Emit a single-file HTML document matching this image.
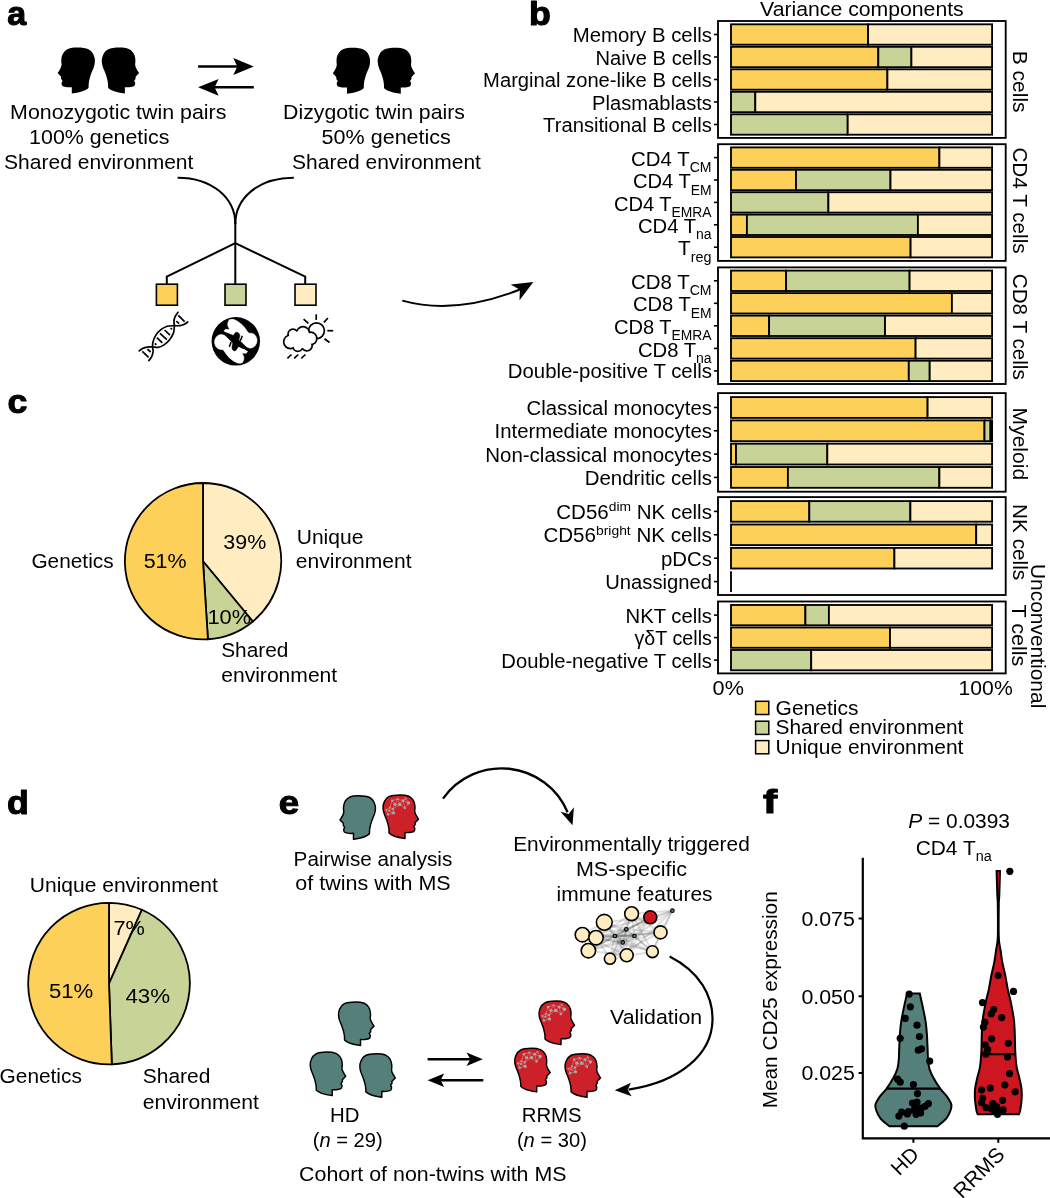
<!DOCTYPE html>
<html lang="en">
<head>
<meta charset="utf-8">
<title>Figure</title>
<style>
html,body{margin:0;padding:0;background:#fff;}
body{width:1050px;height:1198px;overflow:hidden;}
svg{display:block;font-family:"Liberation Sans",sans-serif;fill:#000;}
.lab{font-weight:bold;stroke:#000;stroke-width:1.1px;stroke-linejoin:round;}
.ln{fill:none;stroke:#000;stroke-width:2;}
</style>
</head>
<body>
<svg width="1050" height="1198" viewBox="0 0 1050 1198">
<rect x="0" y="0" width="1050" height="1198" fill="#fff"/>
<defs>
<path id="head" d="M19.7,0 C24,0 28.5,0.5 31.2,1.9 C33.5,3.2 35,5 35.9,7.1 C36.9,9.3 37.4,11.5 37.3,13.4 C37.3,15.3 37,17 36.5,18.6 C36,20.5 35.2,22 34.4,23.9 C33.6,26 32.8,28 32.3,30.2 C31.8,32 31.4,33.5 31.2,35.4 C31,37 31,38.5 31,40.1 C29,42.5 24,44.5 14.2,45.9 L14.2,39.6 C12,39.8 10,39.8 8.2,39.4 C6.5,39.2 5,38.8 4.5,38 C4,37 3.8,36 4,34.9 L5,33.3 L3.5,31.2 L3.5,29.1 L0,25.5 C1,24 2.2,22.3 2.9,20.7 C3.6,19.3 4,18 4,16.6 C3.6,15 3.6,13 3.8,11.3 C4,9 4.6,7.2 5.6,5.6 C6.8,3.8 8.3,2.4 10.3,1.4 C13,0.3 16,0 19.7,0Z"/>
<g id="net" stroke="#C9B4B4" stroke-width="0.5" fill="#A3A8A8"><line x1="9.5" y1="6.2" x2="12.4" y2="10.0"/><line x1="9.5" y1="6.2" x2="15.2" y2="4.3"/><line x1="12.4" y1="10.0" x2="15.2" y2="4.3"/><line x1="12.4" y1="10.0" x2="17.6" y2="10.0"/><line x1="15.2" y1="4.3" x2="17.6" y2="10.0"/><line x1="15.2" y1="4.3" x2="21.0" y2="6.2"/><line x1="17.6" y1="10.0" x2="21.0" y2="6.2"/><line x1="17.6" y1="10.0" x2="22.9" y2="13.8"/><line x1="21.0" y1="6.2" x2="22.9" y2="13.8"/><line x1="21.0" y1="6.2" x2="23.8" y2="3.8"/><line x1="21.0" y1="6.2" x2="26.7" y2="8.6"/><line x1="22.9" y1="13.8" x2="26.7" y2="8.6"/><line x1="23.8" y1="3.8" x2="26.7" y2="8.6"/><line x1="12.4" y1="10.0" x2="10.5" y2="14.8"/><line x1="9.5" y1="6.2" x2="7.1" y2="13.3"/><line x1="10.5" y1="14.8" x2="7.1" y2="13.3"/><line x1="7.1" y1="13.3" x2="3.3" y2="15.7"/><line x1="3.3" y1="15.7" x2="5.2" y2="20.5"/><line x1="5.2" y1="20.5" x2="11.0" y2="19.0"/><line x1="10.5" y1="14.8" x2="11.0" y2="19.0"/><line x1="7.1" y1="13.3" x2="6.2" y2="16.7"/><line x1="6.2" y1="16.7" x2="11.0" y2="19.0"/><line x1="3.3" y1="15.7" x2="6.2" y2="16.7"/><line x1="10.5" y1="14.8" x2="6.2" y2="16.7"/><line x1="17.6" y1="10.0" x2="10.5" y2="14.8"/><circle cx="9.5" cy="6.2" r="1.3" stroke="none"/><circle cx="12.4" cy="10.0" r="1.7" stroke="none"/><circle cx="15.2" cy="4.3" r="1.0" stroke="none"/><circle cx="17.6" cy="10.0" r="1.9" stroke="none"/><circle cx="21.0" cy="6.2" r="1.5" stroke="none"/><circle cx="22.9" cy="13.8" r="1.3" stroke="none"/><circle cx="23.8" cy="3.8" r="1.0" stroke="none"/><circle cx="26.7" cy="8.6" r="1.8" stroke="none"/><circle cx="10.5" cy="14.8" r="1.2" stroke="none"/><circle cx="7.1" cy="13.3" r="1.0" stroke="none"/><circle cx="3.3" cy="15.7" r="1.0" stroke="none"/><circle cx="5.2" cy="20.5" r="1.3" stroke="none"/><circle cx="11.0" cy="19.0" r="1.7" stroke="none"/><circle cx="6.2" cy="16.7" r="0.9" stroke="none"/></g>
</defs>
<g id="panel-a">
<text class="lab" transform="translate(7.2,25.2) scale(1.0,1)" font-size="34">a</text>
<g transform="translate(57.6,47.6) scale(1.0)"><use href="#head" fill="#000"/></g>
<g transform="translate(139.1,47.6) scale(-1.0,1.0)"><use href="#head" fill="#000"/></g>
<g transform="translate(332.8,47.8) scale(1.0)"><use href="#head" fill="#000"/></g>
<g transform="translate(415.0,47.8) scale(-1.0,1.0)"><use href="#head" fill="#000"/></g>
<line class="ln" style="stroke-width:2.4" x1="198.1" y1="66.5" x2="238" y2="66.5"/>
<polygon points="253.8,66.5 233.3,58.1 237.3,66.5 233.3,74.9" fill="#000"/>
<line class="ln" style="stroke-width:2.4" x1="253.8" y1="87.3" x2="214" y2="87.3"/>
<polygon points="198.1,87.3 218.6,95.7 214.6,87.3 218.6,78.9" fill="#000"/>
<text x="10.1" y="118.5" font-size="20.5" textLength="216.3" lengthAdjust="spacingAndGlyphs">Monozygotic twin pairs</text>
<text x="29.1" y="144.0" font-size="20.5" textLength="140.3" lengthAdjust="spacingAndGlyphs">100% genetics</text>
<text x="4.1" y="169.0" font-size="20.5" textLength="189.3" lengthAdjust="spacingAndGlyphs">Shared environment</text>
<text x="283.1" y="118.5" font-size="20.5" textLength="181.8" lengthAdjust="spacingAndGlyphs">Dizygotic twin pairs</text>
<text x="321.6" y="144.0" font-size="20.5" textLength="129.3" lengthAdjust="spacingAndGlyphs">50% genetics</text>
<text x="292.1" y="169.0" font-size="20.5" textLength="188.8" lengthAdjust="spacingAndGlyphs">Shared environment</text>
<path class="ln" d="M177.6,177.7 C212,177.7 235.3,198 235.3,224"/>
<path class="ln" d="M293.8,177.7 C258.6,177.7 235.3,198 235.3,224"/>
<path class="ln" d="M235.3,223 V284"/>
<path class="ln" stroke-linejoin="miter" d="M166.8,284 V276.6 L235.3,243.2 L305.2,276.6 V284"/>
<rect x="156.4" y="284.2" width="21" height="21" fill="#FDD05A" stroke="#000" stroke-width="1.6"/>
<rect x="225.0" y="284.2" width="21" height="21" fill="#C8D398" stroke="#000" stroke-width="1.6"/>
<rect x="295.0" y="284.2" width="21" height="21" fill="#FFECC1" stroke="#000" stroke-width="1.6"/>
<g fill="none" stroke="#000" stroke-width="1.7" stroke-linecap="round">
<path d="M139.1,350.9 C139.7,350.5 141.3,349.2 142.6,348.6 C143.9,348.0 145.5,347.4 147.1,347.1 C148.7,346.8 150.5,346.8 152.3,346.9 C154.1,346.9 156.1,347.7 158.0,347.4 C159.9,347.1 161.8,346.3 163.7,345.1 C165.6,343.9 167.8,342.0 169.4,340.0 C171.0,338.0 172.6,335.3 173.4,333.1 C174.2,330.9 174.2,328.9 174.3,326.9 C174.4,324.9 173.9,322.8 174.0,321.1 C174.1,319.4 174.4,318.1 175.1,316.6 C175.8,315.1 177.5,313.0 178.0,312.3"/>
<path d="M148.9,360.6 C149.4,359.9 151.0,358.1 151.7,356.6 C152.4,355.1 152.9,353.0 153.1,351.4 C153.2,349.8 152.6,348.6 152.6,347.1 C152.6,345.6 152.4,344.2 152.9,342.3 C153.4,340.4 154.4,337.5 155.7,335.4 C157.0,333.3 159.0,331.2 160.9,329.7 C162.8,328.2 164.9,327.0 167.1,326.3 C169.3,325.6 171.9,325.8 174.0,325.7 C176.1,325.6 178.0,325.9 179.7,325.7 C181.4,325.5 183.0,324.9 184.3,324.3 C185.6,323.7 187.1,322.4 187.7,322.0"/>
<line x1="154.9" y1="343.4" x2="156.3" y2="344.9" stroke-width="1.7" stroke-linecap="butt"/>
<line x1="156.9" y1="337.7" x2="162.3" y2="342.9" stroke-width="1.7" stroke-linecap="butt"/>
<line x1="160.0" y1="333.4" x2="166.9" y2="339.7" stroke-width="1.7" stroke-linecap="butt"/>
<line x1="164.6" y1="330.0" x2="170.0" y2="335.1" stroke-width="1.7" stroke-linecap="butt"/>
<line x1="170.6" y1="328.0" x2="172.0" y2="329.4" stroke-width="1.7" stroke-linecap="butt"/>
<line x1="142.3" y1="351.4" x2="148.6" y2="357.4" stroke-width="1.7" stroke-linecap="butt"/>
<line x1="147.4" y1="349.1" x2="150.6" y2="352.0" stroke-width="1.7" stroke-linecap="butt"/>
<line x1="178.3" y1="315.4" x2="184.6" y2="321.7" stroke-width="1.7" stroke-linecap="butt"/>
<line x1="176.3" y1="321.1" x2="179.1" y2="323.7" stroke-width="1.7" stroke-linecap="butt"/>
</g>
<g transform="translate(235.8,341.3)">
<circle r="24.2" fill="#000"/>
<polygon transform="scale(1)" points="-6.51,-21.44 -4.37,-21.97 -1.71,-21.71 2.03,-19.84 6.29,-16.64 9.49,-12.91 11.63,-9.71 13.23,-8.11 15.36,-8.11 18.03,-7.31 20.16,-4.91 21.23,-1.71 20.96,1.49 19.36,4.43 16.96,6.29 14.29,6.83 11.63,6.03 9.49,4.43 6.29,1.49 2.03,-2.24 -2.24,-5.44 -6.51,-7.31 -10.24,-8.64 -11.57,-9.71 -11.57,-10.77 -10.24,-11.95 -7.57,-11.84 -6.08,-11.95 -7.31,-13.97 -8.11,-16.11 -7.84,-18.77" fill="#fff" stroke="#fff" stroke-width="0.6" stroke-linejoin="round"/>
<polygon transform="scale(-1)" points="-6.51,-21.44 -4.37,-21.97 -1.71,-21.71 2.03,-19.84 6.29,-16.64 9.49,-12.91 11.63,-9.71 13.23,-8.11 15.36,-8.11 18.03,-7.31 20.16,-4.91 21.23,-1.71 20.96,1.49 19.36,4.43 16.96,6.29 14.29,6.83 11.63,6.03 9.49,4.43 6.29,1.49 2.03,-2.24 -2.24,-5.44 -6.51,-7.31 -10.24,-8.64 -11.57,-9.71 -11.57,-10.77 -10.24,-11.95 -7.57,-11.84 -6.08,-11.95 -7.31,-13.97 -8.11,-16.11 -7.84,-18.77" fill="#fff" stroke="#fff" stroke-width="0.6" stroke-linejoin="round"/>
<polygon points="-11.84,-9.44 -8.64,-8.21 -5.44,-6.93 -2.35,-5.71 -1.17,-7.84 0.16,-9.07 2.03,-8.91 3.63,-7.31 4.05,-5.44 3.52,-3.04 3.09,-1.17 4.96,0.43 6.83,2.29 8.96,4.69 11.36,7.36 11.89,9.49 11.36,9.49 8.96,7.63 6.29,6.83 4.16,5.49 2.13,5.33 1.39,7.36 0.00,9.23 -1.71,9.60 -3.31,8.43 -3.84,6.29 -3.41,3.36 -3.04,1.49 -4.37,0.16 -6.24,-1.71 -8.11,-3.84 -9.71,-5.97 -11.57,-7.57" fill="#000" stroke="#000" stroke-width="0.5" stroke-linejoin="round"/>
<g stroke="#000" stroke-width="1.5" stroke-linecap="round">
<polyline fill="none" points="6.29,-4.91 4.80,-1.07"/><polyline fill="none" points="-6.29,4.91 -4.80,1.07"/>
</g>
</g>
<g>
<g stroke="#000" stroke-width="1.7" stroke-linecap="butt">
<line x1="316.2" y1="314.3" x2="316.2" y2="319.9"/>
<line x1="327.9" y1="318.0" x2="323.9" y2="322.3"/>
<line x1="327.3" y1="330.7" x2="333.2" y2="330.7"/>
<line x1="324.5" y1="338.7" x2="329.5" y2="342.5"/>
<line x1="303.6" y1="319.2" x2="308.4" y2="323.3"/>
</g>
<circle cx="316.5" cy="330.7" r="7.9" fill="#fff" stroke="#000" stroke-width="1.7"/>
<circle cx="303.0" cy="333.2" r="7.35" fill="#000"/>
<circle cx="293.0" cy="334.1" r="5.85" fill="#000"/>
<circle cx="290.5" cy="341.8" r="7.6499999999999995" fill="#000"/>
<circle cx="297.8" cy="346.5" r="5.6499999999999995" fill="#000"/>
<circle cx="306.9" cy="345.6" r="6.1499999999999995" fill="#000"/>
<circle cx="310.6" cy="338.4" r="7.05" fill="#000"/>
<circle cx="300" cy="340" r="7.85" fill="#000"/>
<circle cx="303.0" cy="333.2" r="5.65" fill="#fff"/>
<circle cx="293.0" cy="334.1" r="4.15" fill="#fff"/>
<circle cx="290.5" cy="341.8" r="5.95" fill="#fff"/>
<circle cx="297.8" cy="346.5" r="3.9499999999999997" fill="#fff"/>
<circle cx="306.9" cy="345.6" r="4.45" fill="#fff"/>
<circle cx="310.6" cy="338.4" r="5.3500000000000005" fill="#fff"/>
<circle cx="300" cy="340" r="6.15" fill="#fff"/>
<path d="M291,336 L303,331 L311,337 L308,346 L298,347 L290,343 Z" fill="#fff" stroke="#fff" stroke-width="3" stroke-linejoin="round"/>
<g stroke="#000" stroke-width="1.7">
<line x1="287.4" y1="358.3" x2="291.5" y2="354.5"/>
<line x1="294.2" y1="358.3" x2="298.3" y2="354.5"/>
<line x1="301.3" y1="358.3" x2="305.40000000000003" y2="354.5"/>
</g>
</g>
<path class="ln" d="M402.3,300.6 C440,311 480,305.5 520.5,289.3"/>
<polygon points="533.4,282.1 510.7,284.5 519.9,289.7 519.5,300.2" fill="#000"/>
</g>
<g id="panel-b">
<text class="lab" transform="translate(528.9,24.8) scale(1.05,1)" font-size="34">b</text>
<text x="760.1" y="15.5" font-size="20.5" textLength="203.6" lengthAdjust="spacingAndGlyphs">Variance components</text>
<rect x="718.0" y="21.0" width="287.7" height="116.9" fill="#fff" stroke="#000" stroke-width="1.85"/>
<line x1="714" y1="34.5" x2="718.0" y2="34.5" stroke="#000" stroke-width="1.6"/>
<rect x="731.0" y="24.3" width="137.1" height="20.4" fill="#FDD05A" stroke="#000" stroke-width="1.85"/>
<rect x="868.1" y="24.3" width="124.0" height="20.4" fill="#FFECC1" stroke="#000" stroke-width="1.85"/>
<text x="711.9" y="41.9" font-size="20" text-anchor="end" class="rl" textLength="139.2" lengthAdjust="spacingAndGlyphs">Memory B cells</text>
<line x1="714" y1="57.0" x2="718.0" y2="57.0" stroke="#000" stroke-width="1.6"/>
<rect x="731.0" y="46.8" width="147.3" height="20.4" fill="#FDD05A" stroke="#000" stroke-width="1.85"/>
<rect x="878.3" y="46.8" width="33.2" height="20.4" fill="#C8D398" stroke="#000" stroke-width="1.85"/>
<rect x="911.4" y="46.8" width="80.7" height="20.4" fill="#FFECC1" stroke="#000" stroke-width="1.85"/>
<text x="711.9" y="64.5" font-size="20" text-anchor="end" class="rl" textLength="116.3" lengthAdjust="spacingAndGlyphs">Naive B cells</text>
<line x1="714" y1="79.5" x2="718.0" y2="79.5" stroke="#000" stroke-width="1.6"/>
<rect x="731.0" y="69.3" width="156.4" height="20.4" fill="#FDD05A" stroke="#000" stroke-width="1.85"/>
<rect x="887.4" y="69.3" width="104.7" height="20.4" fill="#FFECC1" stroke="#000" stroke-width="1.85"/>
<text x="711.9" y="87.0" font-size="20" text-anchor="end" class="rl" textLength="228.8" lengthAdjust="spacingAndGlyphs">Marginal zone-like B cells</text>
<line x1="714" y1="102.0" x2="718.0" y2="102.0" stroke="#000" stroke-width="1.6"/>
<rect x="731.0" y="91.8" width="24.3" height="20.4" fill="#C8D398" stroke="#000" stroke-width="1.85"/>
<rect x="755.3" y="91.8" width="236.8" height="20.4" fill="#FFECC1" stroke="#000" stroke-width="1.85"/>
<text x="711.9" y="109.5" font-size="20" text-anchor="end" class="rl" textLength="119.9" lengthAdjust="spacingAndGlyphs">Plasmablasts</text>
<line x1="714" y1="124.5" x2="718.0" y2="124.5" stroke="#000" stroke-width="1.6"/>
<rect x="731.0" y="114.3" width="116.7" height="20.4" fill="#C8D398" stroke="#000" stroke-width="1.85"/>
<rect x="847.7" y="114.3" width="144.4" height="20.4" fill="#FFECC1" stroke="#000" stroke-width="1.85"/>
<text x="711.9" y="131.9" font-size="20" text-anchor="end" class="rl" textLength="168.8" lengthAdjust="spacingAndGlyphs">Transitional B cells</text>
<rect x="718.0" y="144.2" width="287.7" height="116.7" fill="#fff" stroke="#000" stroke-width="1.85"/>
<line x1="714" y1="157.6" x2="718.0" y2="157.6" stroke="#000" stroke-width="1.6"/>
<rect x="731.0" y="147.4" width="208.4" height="20.4" fill="#FDD05A" stroke="#000" stroke-width="1.85"/>
<rect x="939.4" y="147.4" width="52.7" height="20.4" fill="#FFECC1" stroke="#000" stroke-width="1.85"/>
<text x="711.6" y="165.7" font-size="20" text-anchor="end" class="rl" textLength="80.5" lengthAdjust="spacingAndGlyphs">CD4 T<tspan font-size="13.8" dy="6.5">CM</tspan></text>
<line x1="714" y1="180.0" x2="718.0" y2="180.0" stroke="#000" stroke-width="1.6"/>
<rect x="731.0" y="169.8" width="65.0" height="20.4" fill="#FDD05A" stroke="#000" stroke-width="1.85"/>
<rect x="796.0" y="169.8" width="94.5" height="20.4" fill="#C8D398" stroke="#000" stroke-width="1.85"/>
<rect x="890.5" y="169.8" width="101.6" height="20.4" fill="#FFECC1" stroke="#000" stroke-width="1.85"/>
<text x="711.6" y="188.1" font-size="20" text-anchor="end" class="rl" textLength="78.7" lengthAdjust="spacingAndGlyphs">CD4 T<tspan font-size="13.8" dy="6.5">EM</tspan></text>
<line x1="714" y1="202.4" x2="718.0" y2="202.4" stroke="#000" stroke-width="1.6"/>
<rect x="731.0" y="192.2" width="97.4" height="20.4" fill="#C8D398" stroke="#000" stroke-width="1.85"/>
<rect x="828.4" y="192.2" width="163.7" height="20.4" fill="#FFECC1" stroke="#000" stroke-width="1.85"/>
<text x="711.6" y="210.5" font-size="20" text-anchor="end" class="rl" textLength="97.7" lengthAdjust="spacingAndGlyphs">CD4 T<tspan font-size="13.8" dy="6.5">EMRA</tspan></text>
<line x1="714" y1="224.8" x2="718.0" y2="224.8" stroke="#000" stroke-width="1.6"/>
<rect x="731.0" y="214.6" width="15.9" height="20.4" fill="#FDD05A" stroke="#000" stroke-width="1.85"/>
<rect x="746.9" y="214.6" width="171.0" height="20.4" fill="#C8D398" stroke="#000" stroke-width="1.85"/>
<rect x="917.9" y="214.6" width="74.2" height="20.4" fill="#FFECC1" stroke="#000" stroke-width="1.85"/>
<text x="711.6" y="232.9" font-size="20" text-anchor="end" class="rl" textLength="73.6" lengthAdjust="spacingAndGlyphs">CD4 T<tspan font-size="13.8" dy="6.5">na</tspan></text>
<line x1="714" y1="247.2" x2="718.0" y2="247.2" stroke="#000" stroke-width="1.6"/>
<rect x="731.0" y="237.0" width="179.6" height="20.4" fill="#FDD05A" stroke="#000" stroke-width="1.85"/>
<rect x="910.6" y="237.0" width="81.5" height="20.4" fill="#FFECC1" stroke="#000" stroke-width="1.85"/>
<text x="711.6" y="255.3" font-size="20" text-anchor="end" class="rl" textLength="33.5" lengthAdjust="spacingAndGlyphs">T<tspan font-size="13.8" dy="6.5">reg</tspan></text>
<rect x="718.0" y="267.4" width="287.7" height="116.6" fill="#fff" stroke="#000" stroke-width="1.85"/>
<line x1="714" y1="280.8" x2="718.0" y2="280.8" stroke="#000" stroke-width="1.6"/>
<rect x="731.0" y="270.6" width="55.1" height="20.4" fill="#FDD05A" stroke="#000" stroke-width="1.85"/>
<rect x="786.1" y="270.6" width="123.5" height="20.4" fill="#C8D398" stroke="#000" stroke-width="1.85"/>
<rect x="909.6" y="270.6" width="82.5" height="20.4" fill="#FFECC1" stroke="#000" stroke-width="1.85"/>
<text x="711.6" y="288.9" font-size="20" text-anchor="end" class="rl" textLength="80.5" lengthAdjust="spacingAndGlyphs">CD8 T<tspan font-size="13.8" dy="6.5">CM</tspan></text>
<line x1="714" y1="303.3" x2="718.0" y2="303.3" stroke="#000" stroke-width="1.6"/>
<rect x="731.0" y="293.1" width="220.9" height="20.4" fill="#FDD05A" stroke="#000" stroke-width="1.85"/>
<rect x="951.9" y="293.1" width="40.2" height="20.4" fill="#FFECC1" stroke="#000" stroke-width="1.85"/>
<text x="711.6" y="311.4" font-size="20" text-anchor="end" class="rl" textLength="78.7" lengthAdjust="spacingAndGlyphs">CD8 T<tspan font-size="13.8" dy="6.5">EM</tspan></text>
<line x1="714" y1="325.8" x2="718.0" y2="325.8" stroke="#000" stroke-width="1.6"/>
<rect x="731.0" y="315.6" width="38.1" height="20.4" fill="#FDD05A" stroke="#000" stroke-width="1.85"/>
<rect x="769.1" y="315.6" width="115.9" height="20.4" fill="#C8D398" stroke="#000" stroke-width="1.85"/>
<rect x="885.0" y="315.6" width="107.1" height="20.4" fill="#FFECC1" stroke="#000" stroke-width="1.85"/>
<text x="711.6" y="333.9" font-size="20" text-anchor="end" class="rl" textLength="97.7" lengthAdjust="spacingAndGlyphs">CD8 T<tspan font-size="13.8" dy="6.5">EMRA</tspan></text>
<line x1="714" y1="348.4" x2="718.0" y2="348.4" stroke="#000" stroke-width="1.6"/>
<rect x="731.0" y="338.2" width="184.6" height="20.4" fill="#FDD05A" stroke="#000" stroke-width="1.85"/>
<rect x="915.6" y="338.2" width="76.5" height="20.4" fill="#FFECC1" stroke="#000" stroke-width="1.85"/>
<text x="711.6" y="356.5" font-size="20" text-anchor="end" class="rl" textLength="73.6" lengthAdjust="spacingAndGlyphs">CD8 T<tspan font-size="13.8" dy="6.5">na</tspan></text>
<line x1="714" y1="370.9" x2="718.0" y2="370.9" stroke="#000" stroke-width="1.6"/>
<rect x="731.0" y="360.7" width="177.8" height="20.4" fill="#FDD05A" stroke="#000" stroke-width="1.85"/>
<rect x="908.8" y="360.7" width="20.9" height="20.4" fill="#C8D398" stroke="#000" stroke-width="1.85"/>
<rect x="929.7" y="360.7" width="62.4" height="20.4" fill="#FFECC1" stroke="#000" stroke-width="1.85"/>
<text x="711.9" y="378.3" font-size="20" text-anchor="end" class="rl" textLength="204.1" lengthAdjust="spacingAndGlyphs">Double-positive T cells</text>
<rect x="718.0" y="393.1" width="287.7" height="98.6" fill="#fff" stroke="#000" stroke-width="1.85"/>
<line x1="714" y1="407.5" x2="718.0" y2="407.5" stroke="#000" stroke-width="1.6"/>
<rect x="731.0" y="397.1" width="196.6" height="20.8" fill="#FDD05A" stroke="#000" stroke-width="1.85"/>
<rect x="927.6" y="397.1" width="64.5" height="20.8" fill="#FFECC1" stroke="#000" stroke-width="1.85"/>
<text x="711.9" y="414.9" font-size="20" text-anchor="end" class="rl" textLength="185.3" lengthAdjust="spacingAndGlyphs">Classical monocytes</text>
<line x1="714" y1="430.8" x2="718.0" y2="430.8" stroke="#000" stroke-width="1.6"/>
<rect x="731.0" y="420.4" width="253.5" height="20.8" fill="#FDD05A" stroke="#000" stroke-width="1.85"/>
<rect x="984.5" y="420.4" width="6.0" height="20.8" fill="#C8D398" stroke="#000" stroke-width="1.85"/>
<rect x="990.5" y="420.4" width="1.6" height="20.8" fill="#FFECC1" stroke="#000" stroke-width="1.85"/>
<text x="711.9" y="438.2" font-size="20" text-anchor="end" class="rl" textLength="217.3" lengthAdjust="spacingAndGlyphs">Intermediate monocytes</text>
<line x1="714" y1="454.1" x2="718.0" y2="454.1" stroke="#000" stroke-width="1.6"/>
<rect x="731.0" y="443.7" width="5.0" height="20.8" fill="#FDD05A" stroke="#000" stroke-width="1.85"/>
<rect x="736.0" y="443.7" width="91.4" height="20.8" fill="#C8D398" stroke="#000" stroke-width="1.85"/>
<rect x="827.3" y="443.7" width="164.8" height="20.8" fill="#FFECC1" stroke="#000" stroke-width="1.85"/>
<text x="711.9" y="461.5" font-size="20" text-anchor="end" class="rl" textLength="226.7" lengthAdjust="spacingAndGlyphs">Non-classical monocytes</text>
<line x1="714" y1="477.4" x2="718.0" y2="477.4" stroke="#000" stroke-width="1.6"/>
<rect x="731.0" y="467.0" width="56.9" height="20.8" fill="#FDD05A" stroke="#000" stroke-width="1.85"/>
<rect x="787.9" y="467.0" width="151.4" height="20.8" fill="#C8D398" stroke="#000" stroke-width="1.85"/>
<rect x="939.4" y="467.0" width="52.7" height="20.8" fill="#FFECC1" stroke="#000" stroke-width="1.85"/>
<text x="711.9" y="484.8" font-size="20" text-anchor="end" class="rl" textLength="127.2" lengthAdjust="spacingAndGlyphs">Dendritic cells</text>
<rect x="718.0" y="497.1" width="287.7" height="97.9" fill="#fff" stroke="#000" stroke-width="1.85"/>
<line x1="714" y1="511.4" x2="718.0" y2="511.4" stroke="#000" stroke-width="1.6"/>
<rect x="731.0" y="501.1" width="78.3" height="20.6" fill="#FDD05A" stroke="#000" stroke-width="1.85"/>
<rect x="809.3" y="501.1" width="101.0" height="20.6" fill="#C8D398" stroke="#000" stroke-width="1.85"/>
<rect x="910.4" y="501.1" width="81.7" height="20.6" fill="#FFECC1" stroke="#000" stroke-width="1.85"/>
<text x="711.9" y="518.8" font-size="20" text-anchor="end" class="rl" textLength="155.6" lengthAdjust="spacingAndGlyphs">CD56<tspan font-size="13.5" dy="-7.5">dim</tspan><tspan dy="7.5"> NK cells</tspan></text>
<line x1="714" y1="534.8" x2="718.0" y2="534.8" stroke="#000" stroke-width="1.6"/>
<rect x="731.0" y="524.5" width="245.2" height="20.6" fill="#FDD05A" stroke="#000" stroke-width="1.85"/>
<rect x="976.2" y="524.5" width="15.9" height="20.6" fill="#FFECC1" stroke="#000" stroke-width="1.85"/>
<text x="711.9" y="542.2" font-size="20" text-anchor="end" class="rl" textLength="168.5" lengthAdjust="spacingAndGlyphs">CD56<tspan font-size="13.5" dy="-7.5">bright</tspan><tspan dy="7.5"> NK cells</tspan></text>
<line x1="714" y1="558.2" x2="718.0" y2="558.2" stroke="#000" stroke-width="1.6"/>
<rect x="731.0" y="547.9" width="163.4" height="20.6" fill="#FDD05A" stroke="#000" stroke-width="1.85"/>
<rect x="894.4" y="547.9" width="97.7" height="20.6" fill="#FFECC1" stroke="#000" stroke-width="1.85"/>
<text x="711.9" y="565.6" font-size="20" text-anchor="end" class="rl" textLength="50.9" lengthAdjust="spacingAndGlyphs">pDCs</text>
<line x1="714" y1="581.6" x2="718.0" y2="581.6" stroke="#000" stroke-width="1.6"/>
<line x1="731.0" y1="571.3" x2="731.0" y2="591.9" stroke="#000" stroke-width="1.85"/>
<text x="711.9" y="589.0" font-size="20" text-anchor="end" class="rl" textLength="106.6" lengthAdjust="spacingAndGlyphs">Unassigned</text>
<rect x="718.0" y="601.5" width="287.7" height="71.9" fill="#fff" stroke="#000" stroke-width="1.85"/>
<line x1="714" y1="615.1" x2="718.0" y2="615.1" stroke="#000" stroke-width="1.6"/>
<rect x="731.0" y="605.0" width="74.4" height="20.3" fill="#FDD05A" stroke="#000" stroke-width="1.85"/>
<rect x="805.4" y="605.0" width="23.5" height="20.3" fill="#C8D398" stroke="#000" stroke-width="1.85"/>
<rect x="828.9" y="605.0" width="163.2" height="20.3" fill="#FFECC1" stroke="#000" stroke-width="1.85"/>
<text x="711.9" y="622.5" font-size="20" text-anchor="end" class="rl" textLength="86.3" lengthAdjust="spacingAndGlyphs">NKT cells</text>
<line x1="714" y1="637.6" x2="718.0" y2="637.6" stroke="#000" stroke-width="1.6"/>
<rect x="731.0" y="627.5" width="159.0" height="20.3" fill="#FDD05A" stroke="#000" stroke-width="1.85"/>
<rect x="890.0" y="627.5" width="102.1" height="20.3" fill="#FFECC1" stroke="#000" stroke-width="1.85"/>
<text x="711.9" y="645.0" font-size="20" text-anchor="end" class="rl" textLength="77.4" lengthAdjust="spacingAndGlyphs">γδT cells</text>
<line x1="714" y1="660.1" x2="718.0" y2="660.1" stroke="#000" stroke-width="1.6"/>
<rect x="731.0" y="650.0" width="80.2" height="20.3" fill="#C8D398" stroke="#000" stroke-width="1.85"/>
<rect x="811.2" y="650.0" width="180.9" height="20.3" fill="#FFECC1" stroke="#000" stroke-width="1.85"/>
<text x="711.9" y="667.5" font-size="20" text-anchor="end" class="rl" textLength="210.6" lengthAdjust="spacingAndGlyphs">Double-negative T cells</text>
<text transform="translate(1012.5,50.8) rotate(90)" font-size="20.5" textLength="61.8" lengthAdjust="spacingAndGlyphs">B cells</text>
<text transform="translate(1012.5,147.4) rotate(90)" font-size="20.5" textLength="106.2" lengthAdjust="spacingAndGlyphs">CD4 T cells</text>
<text transform="translate(1012.5,273.7) rotate(90)" font-size="20.5" textLength="106.1" lengthAdjust="spacingAndGlyphs">CD8 T cells</text>
<text transform="translate(1012.9,407.6) rotate(90)" font-size="20.5" textLength="72.5" lengthAdjust="spacingAndGlyphs">Myeloid</text>
<text transform="translate(1012.5,504.0) rotate(90)" font-size="20.5" textLength="76.2" lengthAdjust="spacingAndGlyphs">NK cells</text>
<text transform="translate(1030.8,563.9) rotate(90)" font-size="20.5" textLength="144.4" lengthAdjust="spacingAndGlyphs">Unconventional</text>
<text transform="translate(1012.4,604.4) rotate(90)" font-size="20.5" textLength="61.9" lengthAdjust="spacingAndGlyphs">T cells</text>
<text x="712.6" y="695.3" font-size="20.5" textLength="31.3" lengthAdjust="spacingAndGlyphs">0%</text>
<text x="958.6" y="695.3" font-size="20.5" textLength="54.1" lengthAdjust="spacingAndGlyphs">100%</text>
<rect x="755.6" y="701.3" width="13.2" height="13.2" fill="#FDD05A" stroke="#000" stroke-width="1.5"/>
<text x="775.6" y="714.5" font-size="20.5" textLength="82.8" lengthAdjust="spacingAndGlyphs">Genetics</text>
<rect x="755.6" y="721.2" width="13.2" height="13.2" fill="#C8D398" stroke="#000" stroke-width="1.5"/>
<text x="775.6" y="734.4" font-size="20.5" textLength="187.8" lengthAdjust="spacingAndGlyphs">Shared environment</text>
<rect x="755.6" y="740.6" width="13.2" height="13.2" fill="#FFECC1" stroke="#000" stroke-width="1.5"/>
<text x="775.6" y="753.8" font-size="20.5" textLength="187.8" lengthAdjust="spacingAndGlyphs">Unique environment</text>
</g>
<g id="panel-c">
<text class="lab" transform="translate(7.4,412.9) scale(1.05,1)" font-size="34">c</text>
<path d="M203.0,561.2 L203.00,483.00 A78.2,78.2 0 0 1 252.85,621.45 Z" fill="#FFECC1" stroke="#000" stroke-width="1.8" stroke-linejoin="round"/>
<path d="M203.0,561.2 L252.85,621.45 A78.2,78.2 0 0 1 207.91,639.25 Z" fill="#C8D398" stroke="#000" stroke-width="1.8" stroke-linejoin="round"/>
<path d="M203.0,561.2 L207.91,639.25 A78.2,78.2 0 1 1 203.00,483.00 Z" fill="#FDD05A" stroke="#000" stroke-width="1.8" stroke-linejoin="round"/>
<text x="31.4" y="567.7" font-size="20.5" textLength="82.2" lengthAdjust="spacingAndGlyphs">Genetics</text>
<text x="143.7" y="567.7" font-size="20.5" textLength="42.9" lengthAdjust="spacingAndGlyphs">51%</text>
<text x="223.3" y="548.9" font-size="20.5" textLength="42.9" lengthAdjust="spacingAndGlyphs">39%</text>
<text x="207.4" y="624.3" font-size="20.5" textLength="43.7" lengthAdjust="spacingAndGlyphs">10%</text>
<text x="296.7" y="543.8" font-size="20.5" textLength="66.7" lengthAdjust="spacingAndGlyphs">Unique</text>
<text x="295.8" y="568.1" font-size="20.5" textLength="115.8" lengthAdjust="spacingAndGlyphs">environment</text>
<text x="221.2" y="657.0" font-size="20.5" textLength="67.2" lengthAdjust="spacingAndGlyphs">Shared</text>
<text x="221.2" y="682.1" font-size="20.5" textLength="116.0" lengthAdjust="spacingAndGlyphs">environment</text>
</g>
<g id="panel-d">
<text class="lab" transform="translate(7.0,813.8) scale(1.05,1)" font-size="34">d</text>
<path d="M109.0,983.6 L109.00,902.80 A80.8,80.8 0 0 1 141.86,909.79 Z" fill="#FFECC1" stroke="#000" stroke-width="1.8" stroke-linejoin="round"/>
<path d="M109.0,983.6 L141.86,909.79 A80.8,80.8 0 0 1 111.82,1064.35 Z" fill="#C8D398" stroke="#000" stroke-width="1.8" stroke-linejoin="round"/>
<path d="M109.0,983.6 L111.82,1064.35 A80.8,80.8 0 1 1 109.00,902.80 Z" fill="#FDD05A" stroke="#000" stroke-width="1.8" stroke-linejoin="round"/>
<text x="29.8" y="892.3" font-size="20.5" textLength="188.1" lengthAdjust="spacingAndGlyphs">Unique environment</text>
<text x="113.5" y="934.5" font-size="20.5" textLength="31.4" lengthAdjust="spacingAndGlyphs">7%</text>
<text x="49.0" y="998.0" font-size="20.5" textLength="44.3" lengthAdjust="spacingAndGlyphs">51%</text>
<text x="125.4" y="1003.2" font-size="20.5" textLength="44.7" lengthAdjust="spacingAndGlyphs">43%</text>
<text x="-0.4" y="1082.8" font-size="20.5" textLength="82.2" lengthAdjust="spacingAndGlyphs">Genetics</text>
<text x="142.8" y="1082.8" font-size="20.5" textLength="67.6" lengthAdjust="spacingAndGlyphs">Shared</text>
<text x="142.8" y="1108.6" font-size="20.5" textLength="116.1" lengthAdjust="spacingAndGlyphs">environment</text>
</g>
<g id="panel-e">
<text class="lab" transform="translate(278.7,814) scale(1.08,1)" font-size="34">e</text>
<g transform="translate(340.0,795.7) scale(0.95)"><use href="#head" fill="#557F7A" stroke="#000" stroke-width="1.53" stroke-linejoin="round"/></g>
<g transform="translate(418.5,794.9) scale(-0.95,0.95)"><use href="#head" fill="#CE2028" stroke="#000" stroke-width="1.53" stroke-linejoin="round"/></g>
<use href="#net" transform="translate(383.1,794.9) scale(0.95)"/>
<text x="293.6" y="866.0" font-size="20.5" textLength="158.7" lengthAdjust="spacingAndGlyphs">Pairwise analysis</text>
<text x="295.3" y="889.8" font-size="20.5" textLength="155.4" lengthAdjust="spacingAndGlyphs">of twins with MS</text>
<path class="ln" style="stroke-width:2.3" d="M443,798.6 A71.7,71.7 0 0 1 567.6,812.2"/>
<polygon points="572.5,825.3 573.9,807.3 568.7,813.9 560.6,811.7" fill="#000"/>
<text x="513.2" y="850.5" font-size="20.5" textLength="236.6" lengthAdjust="spacingAndGlyphs">Environmentally triggered</text>
<text x="575.9" y="875.8" font-size="20.5" textLength="111.2" lengthAdjust="spacingAndGlyphs">MS-specific</text>
<text x="556.6" y="900.5" font-size="20.5" textLength="156.0" lengthAdjust="spacingAndGlyphs">immune features</text>
<g stroke="#444" stroke-opacity="0.17" stroke-width="1.9" fill="none">
<line x1="604.3" y1="922.3" x2="650.3" y2="917.3"/>
<line x1="604.3" y1="922.3" x2="582.4" y2="934.7"/>
<line x1="604.3" y1="922.3" x2="588.4" y2="950.7"/>
<line x1="604.3" y1="922.3" x2="626.7" y2="955.3"/>
<line x1="604.3" y1="922.3" x2="626.3" y2="929.3"/>
<line x1="604.3" y1="922.3" x2="614.9" y2="936.0"/>
<line x1="604.3" y1="922.3" x2="634.4" y2="936.0"/>
<line x1="604.3" y1="922.3" x2="622.7" y2="942.4"/>
<line x1="631.6" y1="913.7" x2="660.5" y2="932.4"/>
<line x1="631.6" y1="913.7" x2="596.0" y2="937.7"/>
<line x1="631.6" y1="913.7" x2="610.0" y2="958.7"/>
<line x1="631.6" y1="913.7" x2="652.4" y2="951.7"/>
<line x1="631.6" y1="913.7" x2="626.3" y2="929.3"/>
<line x1="631.6" y1="913.7" x2="614.9" y2="936.0"/>
<line x1="631.6" y1="913.7" x2="634.4" y2="936.0"/>
<line x1="631.6" y1="913.7" x2="622.7" y2="942.4"/>
<line x1="631.6" y1="913.7" x2="672.4" y2="910.7"/>
<line x1="650.3" y1="917.3" x2="582.4" y2="934.7"/>
<line x1="650.3" y1="917.3" x2="588.4" y2="950.7"/>
<line x1="650.3" y1="917.3" x2="626.7" y2="955.3"/>
<line x1="650.3" y1="917.3" x2="626.3" y2="929.3"/>
<line x1="650.3" y1="917.3" x2="614.9" y2="936.0"/>
<line x1="650.3" y1="917.3" x2="634.4" y2="936.0"/>
<line x1="650.3" y1="917.3" x2="622.7" y2="942.4"/>
<line x1="650.3" y1="917.3" x2="672.4" y2="910.7"/>
<line x1="660.5" y1="932.4" x2="596.0" y2="937.7"/>
<line x1="660.5" y1="932.4" x2="610.0" y2="958.7"/>
<line x1="660.5" y1="932.4" x2="652.4" y2="951.7"/>
<line x1="660.5" y1="932.4" x2="626.3" y2="929.3"/>
<line x1="660.5" y1="932.4" x2="614.9" y2="936.0"/>
<line x1="660.5" y1="932.4" x2="634.4" y2="936.0"/>
<line x1="660.5" y1="932.4" x2="622.7" y2="942.4"/>
<line x1="660.5" y1="932.4" x2="672.4" y2="910.7"/>
<line x1="582.4" y1="934.7" x2="588.4" y2="950.7"/>
<line x1="582.4" y1="934.7" x2="626.7" y2="955.3"/>
<line x1="582.4" y1="934.7" x2="626.3" y2="929.3"/>
<line x1="582.4" y1="934.7" x2="614.9" y2="936.0"/>
<line x1="582.4" y1="934.7" x2="634.4" y2="936.0"/>
<line x1="582.4" y1="934.7" x2="622.7" y2="942.4"/>
<line x1="596.0" y1="937.7" x2="610.0" y2="958.7"/>
<line x1="596.0" y1="937.7" x2="652.4" y2="951.7"/>
<line x1="596.0" y1="937.7" x2="626.3" y2="929.3"/>
<line x1="596.0" y1="937.7" x2="614.9" y2="936.0"/>
<line x1="596.0" y1="937.7" x2="634.4" y2="936.0"/>
<line x1="596.0" y1="937.7" x2="622.7" y2="942.4"/>
<line x1="588.4" y1="950.7" x2="626.7" y2="955.3"/>
<line x1="588.4" y1="950.7" x2="626.3" y2="929.3"/>
<line x1="588.4" y1="950.7" x2="614.9" y2="936.0"/>
<line x1="588.4" y1="950.7" x2="634.4" y2="936.0"/>
<line x1="588.4" y1="950.7" x2="622.7" y2="942.4"/>
<line x1="610.0" y1="958.7" x2="652.4" y2="951.7"/>
<line x1="610.0" y1="958.7" x2="626.3" y2="929.3"/>
<line x1="610.0" y1="958.7" x2="614.9" y2="936.0"/>
<line x1="610.0" y1="958.7" x2="634.4" y2="936.0"/>
<line x1="610.0" y1="958.7" x2="622.7" y2="942.4"/>
<line x1="626.7" y1="955.3" x2="626.3" y2="929.3"/>
<line x1="626.7" y1="955.3" x2="614.9" y2="936.0"/>
<line x1="626.7" y1="955.3" x2="634.4" y2="936.0"/>
<line x1="626.7" y1="955.3" x2="622.7" y2="942.4"/>
<line x1="626.7" y1="955.3" x2="672.4" y2="910.7"/>
<line x1="652.4" y1="951.7" x2="626.3" y2="929.3"/>
<line x1="652.4" y1="951.7" x2="614.9" y2="936.0"/>
<line x1="652.4" y1="951.7" x2="634.4" y2="936.0"/>
<line x1="652.4" y1="951.7" x2="622.7" y2="942.4"/>
<line x1="652.4" y1="951.7" x2="672.4" y2="910.7"/>
<line x1="626.3" y1="929.3" x2="614.9" y2="936.0"/>
<line x1="626.3" y1="929.3" x2="634.4" y2="936.0"/>
<line x1="626.3" y1="929.3" x2="622.7" y2="942.4"/>
<line x1="626.3" y1="929.3" x2="672.4" y2="910.7"/>
<line x1="614.9" y1="936.0" x2="634.4" y2="936.0"/>
<line x1="614.9" y1="936.0" x2="622.7" y2="942.4"/>
<line x1="634.4" y1="936.0" x2="622.7" y2="942.4"/>
<line x1="634.4" y1="936.0" x2="672.4" y2="910.7"/>
</g>
<circle cx="604.3" cy="922.3" r="7.9" fill="#FFECC1" stroke="#000" stroke-width="1.6"/>
<circle cx="631.6" cy="913.7" r="6.9" fill="#FFECC1" stroke="#000" stroke-width="1.6"/>
<circle cx="650.3" cy="917.3" r="6.5" fill="#CE1620" stroke="#000" stroke-width="1.6"/>
<circle cx="660.5" cy="932.4" r="6.5" fill="#FFECC1" stroke="#000" stroke-width="1.6"/>
<circle cx="582.4" cy="934.7" r="7.2" fill="#FFECC1" stroke="#000" stroke-width="1.6"/>
<circle cx="596.0" cy="937.7" r="7.2" fill="#FFECC1" stroke="#000" stroke-width="1.6"/>
<circle cx="588.4" cy="950.7" r="7.2" fill="#FFECC1" stroke="#000" stroke-width="1.6"/>
<circle cx="610.0" cy="958.7" r="5.6" fill="#FFECC1" stroke="#000" stroke-width="1.6"/>
<circle cx="626.7" cy="955.3" r="6.5" fill="#FFECC1" stroke="#000" stroke-width="1.6"/>
<circle cx="652.4" cy="951.7" r="5.9" fill="#FFECC1" stroke="#000" stroke-width="1.6"/>
<circle cx="626.3" cy="929.3" r="1.8" fill="#557F7A" stroke="#000" stroke-width="1.1"/>
<circle cx="614.9" cy="936.0" r="1.8" fill="#557F7A" stroke="#000" stroke-width="1.1"/>
<circle cx="634.4" cy="936.0" r="1.8" fill="#557F7A" stroke="#000" stroke-width="1.1"/>
<circle cx="622.7" cy="942.4" r="1.8" fill="#557F7A" stroke="#000" stroke-width="1.1"/>
<circle cx="672.4" cy="910.7" r="1.8" fill="#557F7A" stroke="#000" stroke-width="1.1"/>
<path class="ln" style="stroke-width:2.2" d="M669.7,956.5 C700,972 713,996 712.5,1020 C712,1054 680,1082 628.5,1089.6"/>
<polygon points="614.8,1090.3 631.6,1096.3 627.6,1089.7 630.9,1082.7" fill="#000"/>
<text x="610.1" y="1023.9" font-size="20.5" textLength="92.0" lengthAdjust="spacingAndGlyphs">Validation</text>
<g transform="translate(374.0,1001.9) scale(-0.95,0.95)"><use href="#head" fill="#557F7A" stroke="#000" stroke-width="1.53" stroke-linejoin="round"/></g>
<g transform="translate(345.7,1052.0) scale(-0.95,0.95)"><use href="#head" fill="#557F7A" stroke="#000" stroke-width="1.53" stroke-linejoin="round"/></g>
<g transform="translate(395.3,1053.7) scale(-0.95,0.95)"><use href="#head" fill="#557F7A" stroke="#000" stroke-width="1.53" stroke-linejoin="round"/></g>
<g transform="translate(574.5,1001.0) scale(-0.95,0.95)"><use href="#head" fill="#CE2028" stroke="#000" stroke-width="1.53" stroke-linejoin="round"/></g>
<use href="#net" transform="translate(539.1,1001.0) scale(0.95)"/>
<g transform="translate(550.2,1048.3) scale(-0.95,0.95)"><use href="#head" fill="#CE2028" stroke="#000" stroke-width="1.53" stroke-linejoin="round"/></g>
<use href="#net" transform="translate(514.8,1048.3) scale(0.95)"/>
<g transform="translate(600.5,1053.7) scale(-0.95,0.95)"><use href="#head" fill="#CE2028" stroke="#000" stroke-width="1.53" stroke-linejoin="round"/></g>
<use href="#net" transform="translate(565.1,1053.7) scale(0.95)"/>
<line class="ln" style="stroke-width:2.6" x1="427.6" y1="1059.3" x2="471" y2="1059.3"/>
<polygon points="482.8,1059.3 466.5,1052.5 470.4,1059.3 466.5,1066.1" fill="#000"/>
<line class="ln" style="stroke-width:2.6" x1="483.3" y1="1080.3" x2="440" y2="1080.3"/>
<polygon points="427.6,1080.3 444.1,1087.1 440.6,1080.3 444.1,1073.5" fill="#000"/>
<text x="330.0" y="1122.0" font-size="20.5" textLength="29.4" lengthAdjust="spacingAndGlyphs">HD</text>
<text x="312.7" y="1147.1" font-size="20" textLength="70.0" lengthAdjust="spacingAndGlyphs">(<tspan font-style="italic">n</tspan> = 29)</text>
<text x="521.7" y="1122.0" font-size="20.5" textLength="59.9" lengthAdjust="spacingAndGlyphs">RRMS</text>
<text x="516.9" y="1147.1" font-size="20" textLength="70.0" lengthAdjust="spacingAndGlyphs">(<tspan font-style="italic">n</tspan> = 30)</text>
<text x="299.1" y="1181.0" font-size="20.5" textLength="267.4" lengthAdjust="spacingAndGlyphs">Cohort of non-twins with MS</text>
</g>
<g id="panel-f">
<text class="lab" transform="translate(763.0,812.8) scale(1.25,1)" font-size="34">f</text>
<text x="908.2" y="828" font-size="20" textLength="101.8" lengthAdjust="spacingAndGlyphs"><tspan font-style="italic">P</tspan> = 0.0393</text>
<text x="915.7" y="854.9" font-size="20" textLength="76" lengthAdjust="spacingAndGlyphs">CD4 T<tspan font-size="13.8" dy="6">na</tspan></text>
<path d="M919.8,993.6 C920.3,995.9 921.8,1002.4 922.8,1007.1 C923.8,1011.8 924.9,1017.1 925.6,1021.6 C926.3,1026.1 926.6,1029.8 926.9,1034.3 C927.2,1038.8 927.4,1044.6 927.6,1048.8 C927.8,1053.0 927.7,1056.3 928.0,1059.6 C928.3,1062.9 928.5,1065.7 929.4,1068.7 C930.3,1071.7 931.6,1074.4 933.4,1077.7 C935.2,1081.0 938.0,1085.6 940.2,1088.6 C942.4,1091.6 944.6,1093.2 946.4,1095.8 C948.2,1098.4 950.5,1101.6 951.2,1104.0 C951.9,1106.4 951.4,1107.9 950.6,1110.3 C949.8,1112.7 948.6,1115.8 946.4,1118.4 C944.2,1121.1 938.9,1124.9 937.4,1126.2 L889.4,1126.2 C887.9,1124.9 882.6,1121.1 880.4,1118.4 C878.2,1115.8 877.0,1112.7 876.2,1110.3 C875.4,1107.9 874.9,1106.4 875.6,1104.0 C876.3,1101.6 878.6,1098.4 880.4,1095.8 C882.2,1093.2 884.4,1091.6 886.6,1088.6 C888.8,1085.6 891.6,1081.0 893.4,1077.7 C895.2,1074.4 896.5,1071.7 897.4,1068.7 C898.3,1065.7 898.5,1062.9 898.8,1059.6 C899.1,1056.3 899.0,1053.0 899.2,1048.8 C899.4,1044.6 899.6,1038.8 899.9,1034.3 C900.2,1029.8 900.5,1026.1 901.2,1021.6 C901.9,1017.1 903.0,1011.8 904.0,1007.1 C905.0,1002.4 906.5,995.9 907.0,993.6 Z" fill="#557F7A" stroke="#000" stroke-width="2.0" stroke-linejoin="miter"/>
<path d="M1000.0,871.0 C999.9,875.0 999.5,889.3 999.3,895.0 C999.1,900.7 998.8,898.0 998.8,905.0 C998.7,912.0 998.5,929.5 998.8,937.0 C999.0,944.5 999.9,945.7 1000.5,950.0 C1001.1,954.3 1001.6,958.4 1002.4,962.6 C1003.2,966.8 1004.3,970.6 1005.2,975.0 C1006.1,979.4 1006.7,984.2 1007.7,989.0 C1008.7,993.8 1010.1,998.4 1011.1,1003.5 C1012.1,1008.6 1013.3,1014.7 1013.9,1019.8 C1014.5,1024.9 1014.6,1028.9 1014.8,1034.3 C1015.0,1039.7 1015.0,1047.0 1015.3,1052.4 C1015.6,1057.8 1015.9,1062.7 1016.6,1066.9 C1017.3,1071.1 1018.5,1074.1 1019.3,1077.7 C1020.1,1081.3 1021.1,1085.0 1021.5,1088.6 C1021.9,1092.2 1021.8,1095.8 1021.6,1099.4 C1021.4,1103.0 1020.6,1107.8 1020.2,1110.3 C1019.8,1112.8 1019.1,1113.6 1018.9,1114.3 L977.7,1114.3 C977.5,1113.6 976.8,1112.8 976.4,1110.3 C976.0,1107.8 975.2,1103.0 975.0,1099.4 C974.8,1095.8 974.7,1092.2 975.1,1088.6 C975.5,1085.0 976.5,1081.3 977.3,1077.7 C978.1,1074.1 979.3,1071.1 980.0,1066.9 C980.7,1062.7 981.0,1057.8 981.3,1052.4 C981.6,1047.0 981.6,1039.7 981.8,1034.3 C982.0,1028.9 982.1,1024.9 982.7,1019.8 C983.3,1014.7 984.5,1008.6 985.5,1003.5 C986.5,998.4 987.9,993.8 988.9,989.0 C989.9,984.2 990.5,979.4 991.4,975.0 C992.3,970.6 993.4,966.8 994.2,962.6 C995.0,958.4 995.5,954.3 996.1,950.0 C996.7,945.7 997.6,944.5 997.8,937.0 C998.1,929.5 997.9,912.0 997.8,905.0 C997.8,898.0 997.5,900.7 997.3,895.0 C997.1,889.3 996.7,875.0 996.6,871.0 Z" fill="#CE1620" stroke="#000" stroke-width="2.0" stroke-linejoin="miter"/>
<line x1="886.4" y1="1088.6" x2="940.4" y2="1088.6" stroke="#000" stroke-width="2.3"/>
<line x1="981.1999999999999" y1="1054.2" x2="1015.4" y2="1054.2" stroke="#000" stroke-width="2.3"/>
<g fill="#000">
<circle cx="909.2" cy="994.1" r="3.6"/>
<circle cx="910.3" cy="1006.8" r="3.6"/>
<circle cx="905.2" cy="1018.4" r="3.6"/>
<circle cx="917.0" cy="1025.2" r="3.6"/>
<circle cx="900.2" cy="1038.3" r="3.6"/>
<circle cx="919.4" cy="1036.5" r="3.6"/>
<circle cx="918.3" cy="1050.2" r="3.6"/>
<circle cx="921.5" cy="1048.8" r="3.6"/>
<circle cx="929.7" cy="1061.1" r="3.6"/>
<circle cx="897.6" cy="1079.2" r="3.6"/>
<circle cx="900.2" cy="1082.2" r="3.6"/>
<circle cx="913.4" cy="1084.6" r="3.6"/>
<circle cx="917.5" cy="1093.6" r="3.6"/>
<circle cx="912.5" cy="1103.1" r="3.6"/>
<circle cx="917.0" cy="1102.1" r="3.6"/>
<circle cx="928.4" cy="1103.6" r="3.6"/>
<circle cx="925.1" cy="1106.3" r="3.6"/>
<circle cx="921.5" cy="1108.1" r="3.6"/>
<circle cx="917.5" cy="1108.8" r="3.6"/>
<circle cx="914.3" cy="1109.9" r="3.6"/>
<circle cx="920.6" cy="1113.0" r="3.6"/>
<circle cx="916.1" cy="1114.3" r="3.6"/>
<circle cx="907.4" cy="1113.9" r="3.6"/>
<circle cx="901.6" cy="1112.1" r="3.6"/>
<circle cx="898.9" cy="1116.1" r="3.6"/>
<circle cx="904.3" cy="1126.2" r="3.6"/>
<circle cx="915.2" cy="1106.3" r="3.6"/>
<circle cx="918.8" cy="1111.2" r="3.6"/>
<circle cx="908.5" cy="1111.7" r="3.6"/>
<circle cx="1013.5" cy="991.4" r="3.6"/>
<circle cx="982.5" cy="1002.6" r="3.6"/>
<circle cx="993.6" cy="1009.5" r="3.6"/>
<circle cx="991.2" cy="1014.0" r="3.6"/>
<circle cx="1001.7" cy="1017.6" r="3.6"/>
<circle cx="984.9" cy="1022.2" r="3.6"/>
<circle cx="983.4" cy="1027.1" r="3.6"/>
<circle cx="991.6" cy="1038.8" r="3.6"/>
<circle cx="1008.4" cy="1043.3" r="3.6"/>
<circle cx="985.2" cy="1044.8" r="3.6"/>
<circle cx="987.6" cy="1049.7" r="3.6"/>
<circle cx="985.8" cy="1054.2" r="3.6"/>
<circle cx="1007.5" cy="1056.9" r="3.6"/>
<circle cx="1009.5" cy="1073.6" r="3.6"/>
<circle cx="1004.8" cy="1085.0" r="3.6"/>
<circle cx="990.3" cy="1088.2" r="3.6"/>
<circle cx="981.6" cy="1090.0" r="3.6"/>
<circle cx="1015.1" cy="1091.8" r="3.6"/>
<circle cx="982.7" cy="1098.0" r="3.6"/>
<circle cx="1002.6" cy="1100.3" r="3.6"/>
<circle cx="981.6" cy="1102.7" r="3.6"/>
<circle cx="993.0" cy="1103.6" r="3.6"/>
<circle cx="986.1" cy="1107.6" r="3.6"/>
<circle cx="991.2" cy="1108.8" r="3.6"/>
<circle cx="996.6" cy="1106.7" r="3.6"/>
<circle cx="998.4" cy="1110.3" r="3.6"/>
<circle cx="1003.0" cy="1109.9" r="3.6"/>
<circle cx="994.8" cy="1111.2" r="3.6"/>
<circle cx="997.5" cy="1114.3" r="3.6"/>
<circle cx="1009.8" cy="871.3" r="3.6"/><circle cx="998.2" cy="975.5" r="3.6"/>
</g>
<path d="M862.8,857.7 V1138.4 H1050" fill="none" stroke="#000" stroke-width="2.2"/>
<line x1="858.6" y1="918.5" x2="862.8" y2="918.5" stroke="#000" stroke-width="2.0"/>
<text x="801.4" y="925.7" font-size="20.5" textLength="53.5" lengthAdjust="spacingAndGlyphs">0.075</text>
<line x1="858.6" y1="996.3" x2="862.8" y2="996.3" stroke="#000" stroke-width="2.0"/>
<text x="801.4" y="1003.5" font-size="20.5" textLength="53.5" lengthAdjust="spacingAndGlyphs">0.050</text>
<line x1="858.6" y1="1073.0" x2="862.8" y2="1073.0" stroke="#000" stroke-width="2.0"/>
<text x="801.4" y="1080.2" font-size="20.5" textLength="53.5" lengthAdjust="spacingAndGlyphs">0.025</text>
<line x1="913.4" y1="1138.6" x2="913.4" y2="1142.8" stroke="#000" stroke-width="2.0"/>
<line x1="998.3" y1="1138.6" x2="998.3" y2="1142.8" stroke="#000" stroke-width="2.0"/>
<text transform="translate(777,999.8) rotate(-90)" font-size="20" text-anchor="middle" textLength="217" lengthAdjust="spacingAndGlyphs">Mean CD25 expression</text>
<text transform="translate(920.3,1155.6) rotate(-45)" font-size="20.5" text-anchor="end">HD</text>
<text transform="translate(1005.8,1155.8) rotate(-45)" font-size="21" text-anchor="end">RRMS</text>
</g>
</svg>
</body>
</html>
